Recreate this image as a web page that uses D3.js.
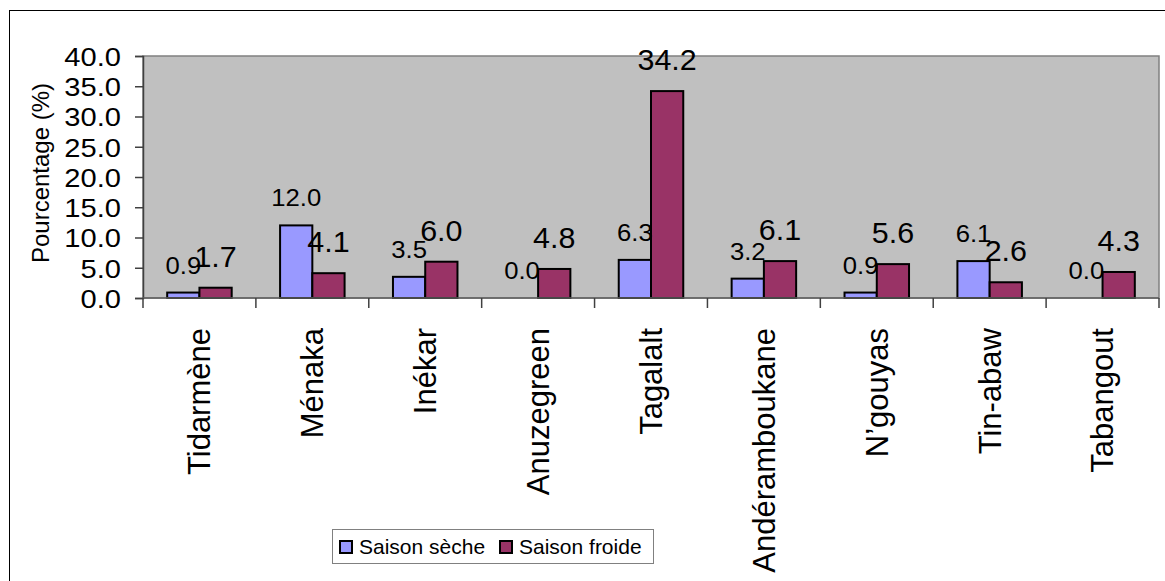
<!DOCTYPE html>
<html>
<head>
<meta charset="utf-8">
<script src="https://cdn.jsdelivr.net/npm/d3@7"></script>
<style>
  html, body { margin: 0; padding: 0; background: #fff; }
  svg { display: block; font-family: "Liberation Sans", Arial, sans-serif; }
</style>
</head>
<body>
<svg id="chart" width="1165" height="581"></svg>
<script>
// Localités
const categories = ["Tidarmène", "Ménaka", "Inékar", "Anuzegreen", "Tagalalt",
                    "Andéramboukane", "N’gouyas", "Tin-abaw", "Tabangout"];
// Pourcentages par saison
const saisonSeche  = [0.9, 12.0, 3.5, 0.0, 6.3, 3.2, 0.9, 6.1, 0.0];
const saisonFroide = [1.7, 4.1, 6.0, 4.8, 34.2, 6.1, 5.6, 2.6, 4.3];
const seriesNames = ["Saison sèche", "Saison froide"];
const yTicks = [0, 5, 10, 15, 20, 25, 30, 35, 40];

const colors = ["#9999FF", "#993366"];

const svg = d3.select("#chart");
const plot = { left: 143, right: 1159, top: 56, bottom: 298 };

// Cadre extérieur
svg.append("rect")
  .attr("x", 9.5).attr("y", 10.5)
  .attr("width", 1300).attr("height", 800)
  .attr("fill", "none").attr("stroke", "#000").attr("stroke-width", 1);

// Zone de tracé
svg.append("rect")
  .attr("x", plot.left).attr("y", plot.top)
  .attr("width", plot.right - plot.left).attr("height", plot.bottom - plot.top)
  .attr("fill", "#C0C0C0").attr("stroke", "#808080").attr("stroke-width", 1.5);

const x = d3.scaleBand().domain(categories).range([plot.left, plot.right]).padding(0);
const y = d3.scaleLinear().domain([0, 40]).range([plot.bottom, plot.top]);

// Largeur d'intervalle 150 %
const bw = x.bandwidth();
const barW = bw / 3.5;
const groupOffset = bw * 0.75 / 3.5;

const data = categories.map((c, i) => ({ cat: c, vals: [saisonSeche[i], saisonFroide[i]] }));

// Barres
const groups = svg.append("g").selectAll("g").data(data).join("g")
  .attr("transform", d => `translate(${x(d.cat) + groupOffset},0)`);

groups.selectAll("rect")
  .data(d => d.vals.map((v, j) => ({ v, j })).filter(e => e.v > 0))
  .join("rect")
  .attr("x", e => e.j * barW)
  .attr("y", e => y(e.v))
  .attr("width", barW)
  .attr("height", e => y(0) - y(e.v))
  .attr("fill", e => colors[e.j])
  .attr("stroke", "#000").attr("stroke-width", 2);

// Étiquettes de valeurs (police légèrement élargie)
const labelSize = [24, 29];
const labelGap = [19, 21];
const labelStretch = [1.07, 1.05];
groups.selectAll("text").data(d => d.vals.map((v, j) => ({ v, j })))
  .join("text")
  .attr("transform", e =>
    `translate(${e.j * barW + barW / 2},${y(e.v) - labelGap[e.j]}) scale(${labelStretch[e.j]},1)`)
  .attr("text-anchor", "middle")
  .attr("font-size", e => labelSize[e.j])
  .attr("fill", "#000")
  .text(e => e.v.toFixed(1));

// Axe vertical
const tickStretch = 1.12;
const yAxis = d3.axisLeft(y).tickValues(yTicks).tickSize(8).tickPadding(14)
  .tickFormat(d3.format(".1f"));
const gy = svg.append("g").attr("transform", `translate(${plot.left},0)`).call(yAxis);
gy.select(".domain").attr("stroke", "#404040").attr("stroke-width", 1.5);
gy.selectAll(".tick line").attr("stroke", "#404040").attr("stroke-width", 1.5);
gy.selectAll(".tick text")
  .attr("font-size", 26).attr("fill", "#000")
  .attr("font-family", "'Liberation Sans', Arial, sans-serif")
  .attr("dy", "0.36em")
  .attr("x", -22 / tickStretch)
  .attr("transform", `scale(${tickStretch},1)`);

// Axe horizontal : trait et graduations entre les catégories
svg.append("line")
  .attr("x1", plot.left).attr("x2", plot.right)
  .attr("y1", plot.bottom).attr("y2", plot.bottom)
  .attr("stroke", "#606060").attr("stroke-width", 1.5);
const bounds = categories.map(c => x(c)).concat([plot.right]);
svg.append("g").selectAll("line").data(bounds).join("line")
  .attr("x1", d => d).attr("x2", d => d)
  .attr("y1", plot.bottom).attr("y2", plot.bottom + 10)
  .attr("stroke", "#404040").attr("stroke-width", 1.5);

// Libellés des catégories (verticaux)
svg.append("g").selectAll("text").data(categories).join("text")
  .attr("transform", d => `translate(${x(d) + bw / 2},${plot.bottom + 30}) rotate(-90)`)
  .attr("text-anchor", "end")
  .attr("dy", "0.35em")
  .attr("font-size", 31)
  .attr("fill", "#000")
  .text(d => d);

// Titre de l'axe vertical
svg.append("text")
  .attr("transform", `translate(49,${(plot.top + plot.bottom) / 2 - 4}) rotate(-90)`)
  .attr("text-anchor", "middle")
  .attr("font-size", 24)
  .attr("fill", "#000")
  .text("Pourcentage (%)");

// Légende
const legend = svg.append("g");
legend.append("rect")
  .attr("x", 332.5).attr("y", 529.5).attr("width", 321).attr("height", 34)
  .attr("fill", "#fff").attr("stroke", "#808080").attr("stroke-width", 1);
const legendX = [340, 500];
const items = legend.selectAll("g").data(seriesNames).join("g")
  .attr("transform", (d, i) => `translate(${legendX[i]},0)`);
items.append("rect")
  .attr("x", 0).attr("y", 541).attr("width", 12).attr("height", 12)
  .attr("fill", (d, i) => colors[i]).attr("stroke", "#000").attr("stroke-width", 2);
items.append("text")
  .attr("x", 19).attr("y", 553.5)
  .attr("font-size", 21).attr("fill", "#000")
  .text(d => d);
</script>
</body>
</html>
